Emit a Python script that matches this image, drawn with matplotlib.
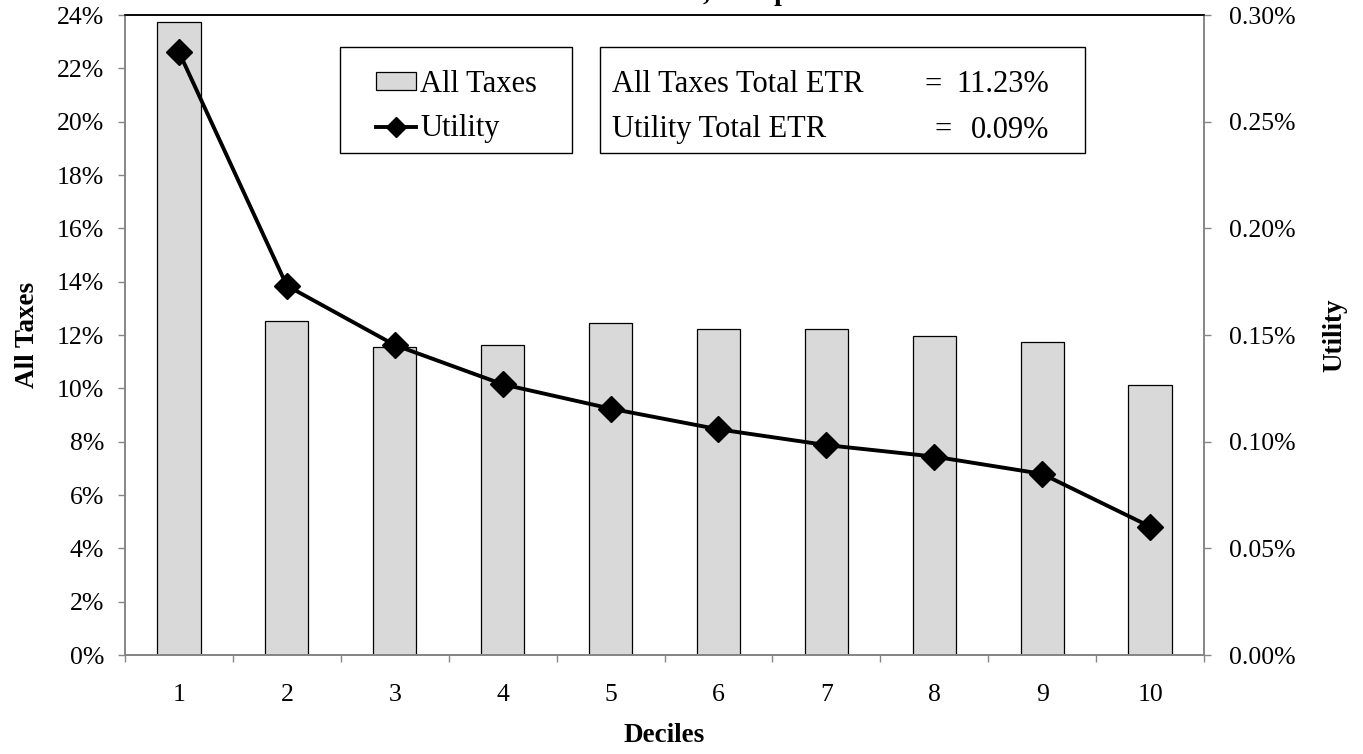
import numpy as np
import matplotlib
matplotlib.use("Agg")
import matplotlib.pyplot as plt
from matplotlib.lines import Line2D
from matplotlib.patches import Patch, Rectangle
from matplotlib.ticker import FuncFormatter, MultipleLocator

plt.rcParams['font.family'] = ['Liberation Serif', 'DejaVu Serif']

# values
deciles = [1, 2, 3, 4, 5, 6, 7, 8, 9, 10]
all_taxes = [23.74, 12.52, 11.56, 11.63, 12.46, 12.24, 12.24, 11.97, 11.75, 10.11]   # % (left axis)
utility = [0.2827, 0.1731, 0.1453, 0.1269, 0.1155, 0.1058, 0.0984, 0.0930, 0.0849, 0.0602]  # % (right axis)
summary_labels = ["All Taxes Total ETR", "Utility Total ETR"]
summary_values = ["11.23%", "0.09%"]

W, H = 1363, 754
GRAY = '#868686'
BAR = '#d9d9d9'

fig = plt.figure(figsize=(W / 100, H / 100), dpi=100)
ax = fig.add_axes([125 / W, 99 / H, 1079 / W, 640 / H])
ax2 = ax.twinx()

# bars on the left axis
ax.bar(deciles, all_taxes, width=0.4, color=BAR, edgecolor='black', linewidth=0.9, zorder=2)
ax.set_xlim(0.5, 10.5)
ax.set_ylim(0, 24)
ax.yaxis.set_major_locator(MultipleLocator(2))
ax.yaxis.set_major_formatter(FuncFormatter(lambda v, p: f"{v:.0f}%"))

# utility line on the right axis
ax2.plot(deciles, utility, color='black', linewidth=2.8, marker='D', markersize=13,
         markerfacecolor='black', markeredgecolor='black', zorder=3)
ax2.set_ylim(0, 0.30)
ax2.yaxis.set_major_locator(MultipleLocator(0.05))
ax2.yaxis.set_major_formatter(FuncFormatter(lambda v, p: f"{v:.2f}%"))

# x ticks: labels at the centres, tick marks between categories
ax.set_xticks(deciles)
ax.set_xticks(np.arange(0.5, 11, 1), minor=True)
ax.tick_params(axis='x', which='major', length=0, pad=21, labelsize=18.5)
ax.tick_params(axis='x', which='minor', direction='out', length=5, width=1, color=GRAY)
ax.tick_params(axis='y', direction='out', length=5, width=1, color=GRAY, pad=10, labelsize=18.5)
ax2.tick_params(axis='y', direction='out', length=5, width=1, color=GRAY, pad=13, labelsize=18.5)

# spines: black top border, gray axis lines
for a in (ax, ax2):
    a.spines['top'].set_color('black')
    a.spines['top'].set_linewidth(1.1)
    a.spines['bottom'].set_color(GRAY)
    a.spines['bottom'].set_linewidth(1.4)
    a.spines['left'].set_color(GRAY)
    a.spines['left'].set_linewidth(1.2)
    a.spines['right'].set_color(GRAY)
    a.spines['right'].set_linewidth(1.2)

# axis titles
ax.set_ylabel("All Taxes", fontsize=19.5, fontweight='bold', va='center')
ax.yaxis.set_label_coords((27 - 125) / 1079, 0.5)
ax2.set_ylabel("Utility", fontsize=19.5, fontweight='bold', va='center', rotation=90)
ax2.yaxis.set_label_coords((1335 - 125) / 1079, 0.5)
ax.set_xlabel("Deciles", fontsize=19.5, fontweight='bold', va='center')
ax.xaxis.set_label_coords(0.5, (655 - 736) / 640)

# chart title sits above the picture, only its descenders show
fig.text(475 / W, 1.0, "Effective Tax Rates, Comparison to All Taxes", fontsize=20,
         fontweight='bold', ha='left', va='baseline')

# legend box
fig.add_artist(Rectangle((340 / W, 1 - 153 / H), 232 / W, 106 / H, transform=fig.transFigure,
                         facecolor='white', edgecolor='black', linewidth=1.0, zorder=5))
handles = [Patch(facecolor=BAR, edgecolor='black', linewidth=0.9),
           Line2D([0], [0], color='black', linewidth=2.8, marker='D', markersize=10)]
leg = fig.legend(handles, ["All Taxes", "Utility"], loc='upper left',
                 bbox_to_anchor=(376 / W, 1 - 70 / H), frameon=False, fontsize=22,
                 handlelength=1.3, handleheight=0.5, handletextpad=0.15,
                 labelspacing=0.5, borderpad=0, borderaxespad=0)
leg.set_zorder(6)

# summary box with total ETRs
fig.add_artist(Rectangle((600 / W, 1 - 153 / H), 485 / W, 106 / H, transform=fig.transFigure,
                         facecolor='white', edgecolor='black', linewidth=1.0, zorder=5))
eq_x = [924, 934]
for i, (lab, val) in enumerate(zip(summary_labels, summary_values)):
    y = 1 - (85 + 45 * i) / H
    fig.text(612 / W, y, lab, fontsize=22, ha='left', va='center', zorder=6)
    fig.text(eq_x[i] / W, y, "=", fontsize=22, ha='left', va='center', zorder=6)
    fig.text(1049 / W, y, val, fontsize=22, ha='right', va='center', zorder=6)

fig.savefig("out.png", dpi=100)
